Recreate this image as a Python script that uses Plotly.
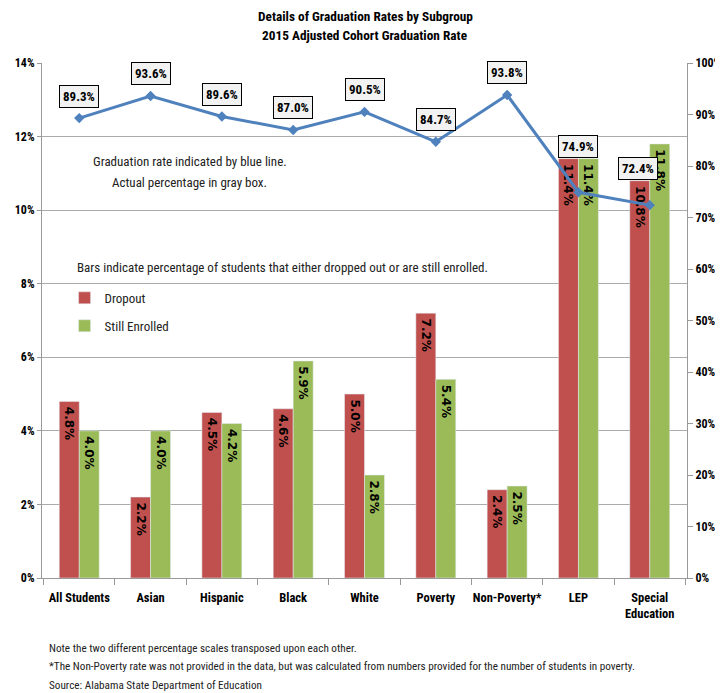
import plotly.graph_objects as go

categories = ["All Students", "Asian", "Hispanic", "Black", "White", "Poverty",
              "Non-Poverty*", "LEP", "Special<br>Education"]
dropout = [4.8, 2.2, 4.5, 4.6, 5.0, 7.2, 2.4, 11.4, 10.8]
still_enrolled = [4.0, 4.0, 4.2, 5.9, 2.8, 5.4, 2.5, 11.4, 11.8]
grad_rate = [89.3, 93.6, 89.6, 87.0, 90.5, 84.7, 93.8, 74.9, 72.4]

FONT = "Roboto Condensed, Liberation Sans, sans-serif"
RED = "#C0504D"
GREEN = "#9BBB59"
BLUE = "#4F81BD"

bar_text_font = dict(family="DejaVu Sans, Liberation Sans", size=12, color="black", weight="bold")

fig = go.Figure()
fig.add_trace(go.Bar(
    x=categories, y=dropout, name="Dropout", marker_color=RED,
    texttemplate="\u2009%{y:.1f}%", textposition="inside", textangle=90,
    insidetextanchor="end", constraintext="none", textfont=bar_text_font,
    legendgroup="a", hoverinfo="skip"))
fig.add_trace(go.Bar(
    x=categories, y=still_enrolled, name="Still Enrolled", marker_color=GREEN,
    texttemplate="\u2009%{y:.1f}%", textposition="inside", textangle=90,
    insidetextanchor="end", constraintext="none", textfont=bar_text_font,
    legendgroup="b", hoverinfo="skip"))
fig.add_trace(go.Scatter(
    x=categories, y=grad_rate, yaxis="y2", mode="lines+markers",
    line=dict(color=BLUE, width=3), marker=dict(symbol="diamond", size=8, color=BLUE),
    showlegend=False, hoverinfo="skip"))

# boxed labels for graduation rates
label_shift = [22, 22, 22, 22, 22, 22, 22, 46, 37]
label_xshift = [0, 0, 0, 0, 0, 0, 0, 0, -12]
for c, v, ys, xs in zip(categories, grad_rate, label_shift, label_xshift):
    fig.add_annotation(x=c, y=v, xref="x", yref="y2", text=f"<b>{v:.1f}%</b>",
                       showarrow=False, yshift=ys, xshift=xs,
                       font=dict(family=FONT, size=13, color="black"),
                       bgcolor="#f2f2f2", bordercolor="black", borderwidth=1, borderpad=3)

notes = [
    (0.229, 0.808, "center", "Graduation rate indicated by blue line."),
    (0.229, 0.767, "center", "Actual percentage in gray box."),
    (0.051, 0.602, "left", "Bars indicate percentage of students that either dropped out or are still enrolled."),
]
for x, y, anc, t in notes:
    fig.add_annotation(x=x, y=y, xref="paper", yref="paper", text=t, showarrow=False,
                       xanchor=anc, yanchor="middle",
                       font=dict(family=FONT, size=13, color="#222"))

# second title line
fig.add_annotation(x=0.5, y=1.054, xref="paper", yref="paper",
                   text="<b>2015 Adjusted Cohort Graduation Rate</b>", showarrow=False,
                   xanchor="center", yanchor="middle",
                   font=dict(family=FONT, size=13.3, color="black"))

footnotes = [
    "Note the two different percentage scales transposed upon each other.",
    "*The Non-Poverty rate was not provided in the data, but was calculated from numbers provided for the number of students in poverty.",
    "Source: Alabama State Department of Education",
]
for i, t in enumerate(footnotes):
    fig.add_annotation(x=0.008, y=-0.136 - 0.036 * i, xref="paper", yref="paper", text=t,
                       showarrow=False, xanchor="left", yanchor="middle",
                       font=dict(family=FONT, size=11.2, color="#222"))

fig.update_layout(
    width=715, height=685,
    margin=dict(l=34, r=36, t=55, b=115),
    paper_bgcolor="white", plot_bgcolor="white",
    font=dict(family=FONT, size=12, color="black"),
    title=dict(text="<b>Details of Graduation Rates by Subgroup</b>",
               x=0.5, xanchor="center", y=0.9883, yanchor="middle",
               font=dict(family=FONT, size=13.3, color="black")),
    barmode="group", bargap=0.44, bargroupgap=0,
    showlegend=True,
    legend=dict(x=0.035, y=0.573, xanchor="left", yanchor="top", bgcolor="rgba(0,0,0,0)",
                traceorder="grouped", tracegroupgap=8,
                font=dict(family=FONT, size=13, color="#222")),
    xaxis=dict(type="category", showline=True, linecolor="#999", ticks="outside",
               tickson="boundaries", ticklen=6, tickcolor="#999", tickangle=0,
               ticklabelstandoff=8,
               tickfont=dict(family=FONT, size=12.5, color="black", weight="bold"),
               showgrid=False, automargin=False),
    yaxis=dict(range=[0, 14], dtick=2, ticksuffix="%", showgrid=True, gridcolor="#aaa",
               showline=True, linecolor="#999", ticks="outside", tickcolor="#999", ticklen=4,
               tickfont=dict(family=FONT, size=12, color="black", weight="bold"),
               zeroline=False, automargin=False),
    yaxis2=dict(range=[0, 100], dtick=10, ticksuffix="%", overlaying="y", side="right",
                showgrid=False, showline=True, linecolor="#999", ticks="outside",
                tickcolor="#999", ticklen=5,
                tickfont=dict(family=FONT, size=12, color="black", weight="bold"),
                zeroline=False, automargin=False),
)

fig.write_html("out.html")
